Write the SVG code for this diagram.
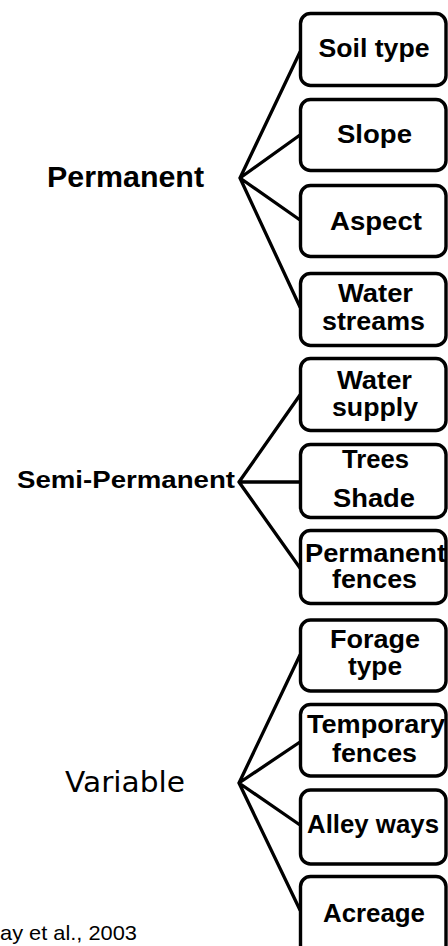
<svg xmlns="http://www.w3.org/2000/svg" width="448" height="946" viewBox="0 0 448 946">
<style>
.box{fill:#fff;stroke:#000;stroke-width:3.4}
.bt{font-family:"Liberation Sans",Arial,sans-serif;font-weight:bold;font-size:25px;fill:#000;text-anchor:middle}
.cat{font-family:"Liberation Sans",Arial,sans-serif;font-weight:bold;fill:#000}
.con{fill:none;stroke:#000;stroke-width:3.3;stroke-linejoin:round;stroke-linecap:round}
</style>
<rect width="448" height="946" fill="#fff"/>
<g id="connectors">
<path class="con" d="M300,52 L240,178 L300,135 M240,178 L300,220 M240,178 L300,307"/>
<path class="con" d="M300,395 L239,482 L300,482 M239,482 L300,568"/>
<path class="con" d="M300,655 L239,783 L300,742 M239,783 L300,825 M239,783 L300,910"/>
</g>
<g id="permanent"><text class="cat" x="47" y="187" font-size="29" textLength="157" lengthAdjust="spacingAndGlyphs">Permanent</text></g>
<g id="semi-permanent"><text class="cat" x="17" y="488" font-size="23" textLength="218" lengthAdjust="spacingAndGlyphs">Semi-Permanent</text></g>
<g id="variable"><text x="65" y="792" font-family="DejaVu Sans,Verdana,sans-serif" font-size="28" fill="#000" textLength="120" lengthAdjust="spacingAndGlyphs">Variable</text></g>
<g id="soil-type"><rect class="box" x="300.5" y="13.5" width="145.5" height="72" rx="10"/><text class="bt" x="374" y="57" textLength="111" lengthAdjust="spacingAndGlyphs">Soil type</text></g>
<g id="slope"><rect class="box" x="300.5" y="99.5" width="145.5" height="71" rx="10"/><text class="bt" x="374.5" y="143" textLength="75" lengthAdjust="spacingAndGlyphs">Slope</text></g>
<g id="aspect"><rect class="box" x="300.5" y="185.5" width="145.5" height="71" rx="10"/><text class="bt" x="376" y="230" textLength="92" lengthAdjust="spacingAndGlyphs">Aspect</text></g>
<g id="water-streams"><rect class="box" x="300.5" y="273.5" width="145.5" height="72" rx="10"/><text class="bt" x="375.5" y="302" textLength="75" lengthAdjust="spacingAndGlyphs">Water</text><text class="bt" x="373.5" y="330" textLength="103" lengthAdjust="spacingAndGlyphs">streams</text></g>
<g id="water-supply"><rect class="box" x="300.5" y="358.5" width="145.5" height="72" rx="10"/><text class="bt" x="374.5" y="389" textLength="75" lengthAdjust="spacingAndGlyphs">Water</text><text class="bt" x="375" y="416" textLength="86" lengthAdjust="spacingAndGlyphs">supply</text></g>
<g id="trees-shade"><rect class="box" x="300.5" y="444.5" width="145.5" height="73" rx="10"/><text class="bt" x="375.5" y="468" textLength="67" lengthAdjust="spacingAndGlyphs">Trees</text><text class="bt" x="374" y="507" textLength="82" lengthAdjust="spacingAndGlyphs">Shade</text></g>
<g id="permanent-fences"><rect class="box" x="300.5" y="530.5" width="145.5" height="73" rx="10"/><text class="bt" x="375.5" y="562" textLength="141" lengthAdjust="spacingAndGlyphs">Permanent</text><text class="bt" x="374.5" y="588" textLength="85" lengthAdjust="spacingAndGlyphs">fences</text></g>
<g id="forage-type"><rect class="box" x="300.5" y="620" width="145.5" height="71" rx="10"/><text class="bt" x="375" y="648" textLength="90" lengthAdjust="spacingAndGlyphs">Forage</text><text class="bt" x="375" y="675" textLength="54" lengthAdjust="spacingAndGlyphs">type</text></g>
<g id="temporary-fences"><rect class="box" x="300.5" y="704.5" width="145.5" height="71.5" rx="10"/><text class="bt" x="376" y="733" textLength="138" lengthAdjust="spacingAndGlyphs">Temporary</text><text class="bt" x="374.5" y="762" textLength="85" lengthAdjust="spacingAndGlyphs">fences</text></g>
<g id="alley-ways"><rect class="box" x="300.5" y="790" width="145.5" height="74" rx="10"/><text class="bt" x="373" y="833" textLength="132" lengthAdjust="spacingAndGlyphs">Alley ways</text></g>
<g id="acreage"><rect class="box" x="300.5" y="876.5" width="145.5" height="85" rx="10"/><text class="bt" x="374" y="922" textLength="102" lengthAdjust="spacingAndGlyphs">Acreage</text></g>
<g id="citation"><text x="0" y="940" font-family="Liberation Sans,Arial,sans-serif" font-size="21" fill="#000" textLength="137" lengthAdjust="spacingAndGlyphs">ay et al., 2003</text></g>
</svg>
